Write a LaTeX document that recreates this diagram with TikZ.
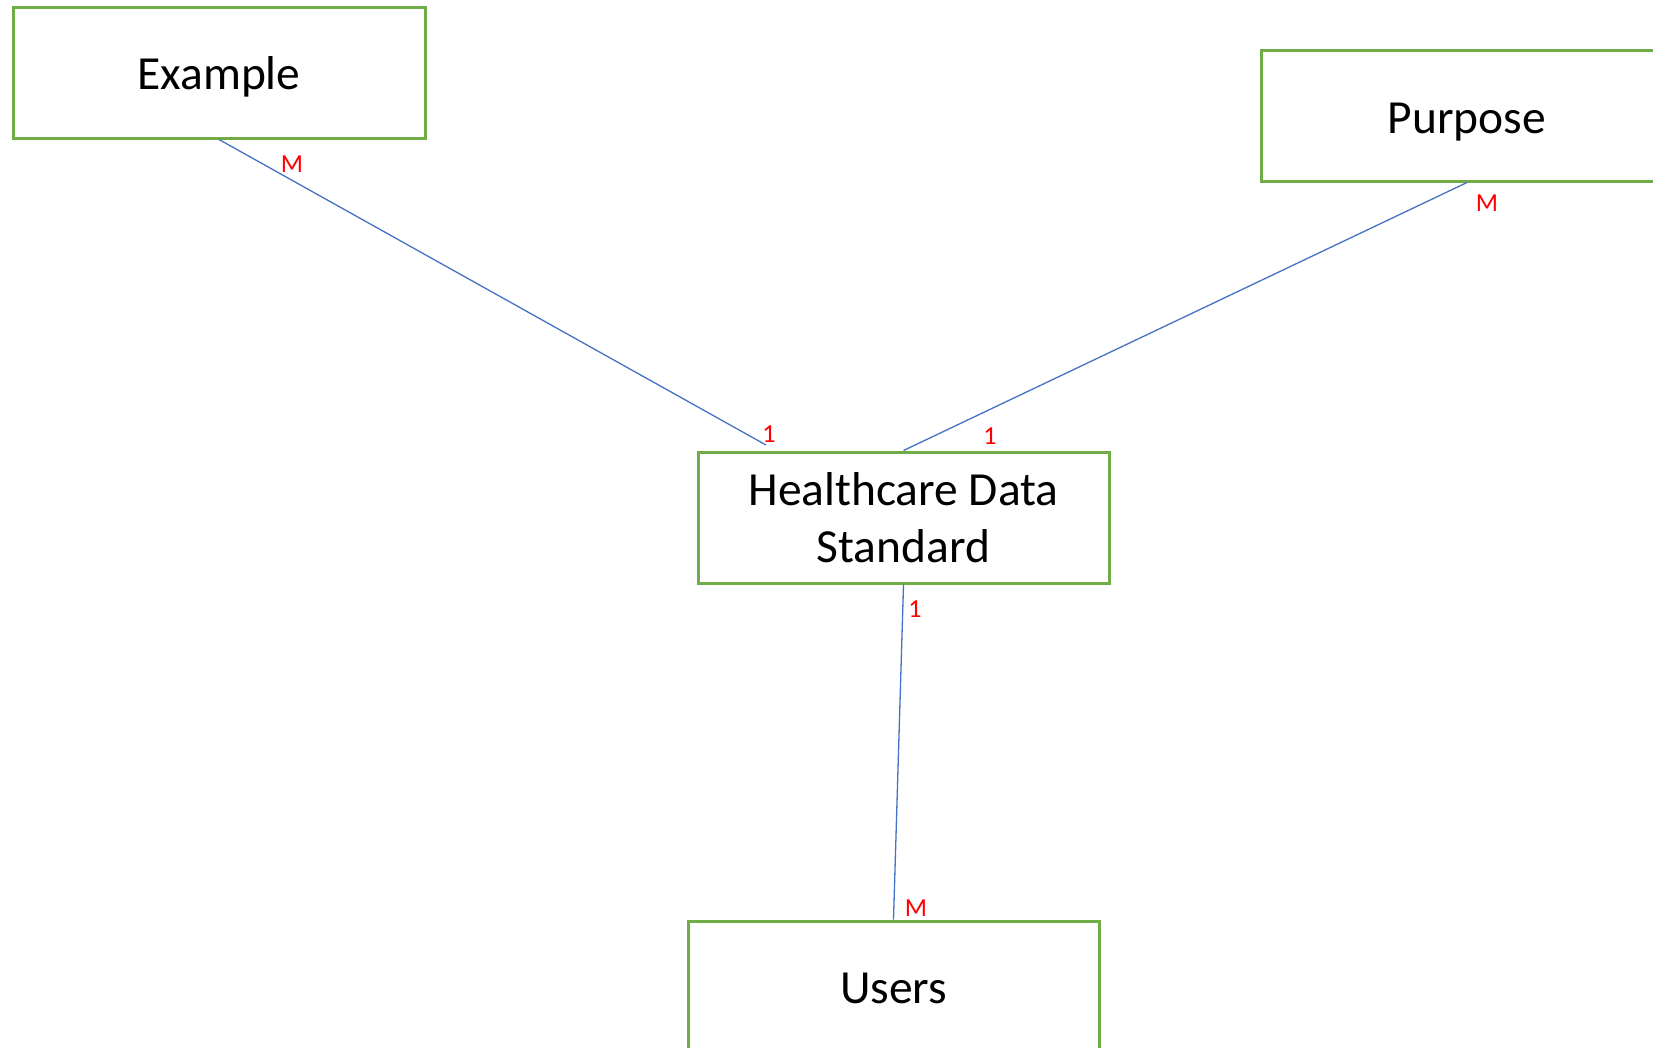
\documentclass[tikz,border=0pt]{standalone}
\usepackage{fontspec}
\setmainfont{Carlito}
\definecolor{boxgreen}{RGB}{112,173,71}
\definecolor{lineblue}{RGB}{68,114,196}
\begin{document}
\begin{tikzpicture}[x=1pt,y=-1pt,
  entity/.style={draw=boxgreen, line width=3pt, fill=white, inner sep=0pt,
    font=\fontsize{47.5}{57}\selectfont, align=center, text=black},
  rel/.style={draw=lineblue, line width=1.3pt},
  card/.style={text=red, font=\fontsize{26}{28}\selectfont, inner sep=0pt}]
\useasboundingbox (0,0) rectangle (1653,1047);
\clip (0,0) rectangle (1653,1047);
\node[entity, minimum width=412pt, minimum height=131pt, text height=42pt] (ex) at (219,72.5) {Example};
\node[entity, minimum width=412pt, minimum height=131pt, text height=43.5pt] (pur) at (1467,115.5) {Purpose};
\node[entity, minimum width=411pt, minimum height=131pt] (hds) at (903.5,517.5) {Healthcare Data\\Standard};
\node[entity, minimum width=411pt, minimum height=134pt] (usr) at (893.5,988) {Users};
\coordinate (exend) at (766,445);
\draw[rel] (ex.south) -- (exend);
\draw[rel] (pur.south) -- (hds.north);
\draw[rel] (hds.south) -- (usr.north);
\node[card] (m1) at (292,164) {M};
\node[card] (o1) at (769,434) {1};
\node[card] (o2) at (990,436) {1};
\node[card] (m2) at (1487,203) {M};
\node[card] (o3) at (915,609) {1};
\node[card] (m3) at (916,908) {M};
\end{tikzpicture}
\end{document}
